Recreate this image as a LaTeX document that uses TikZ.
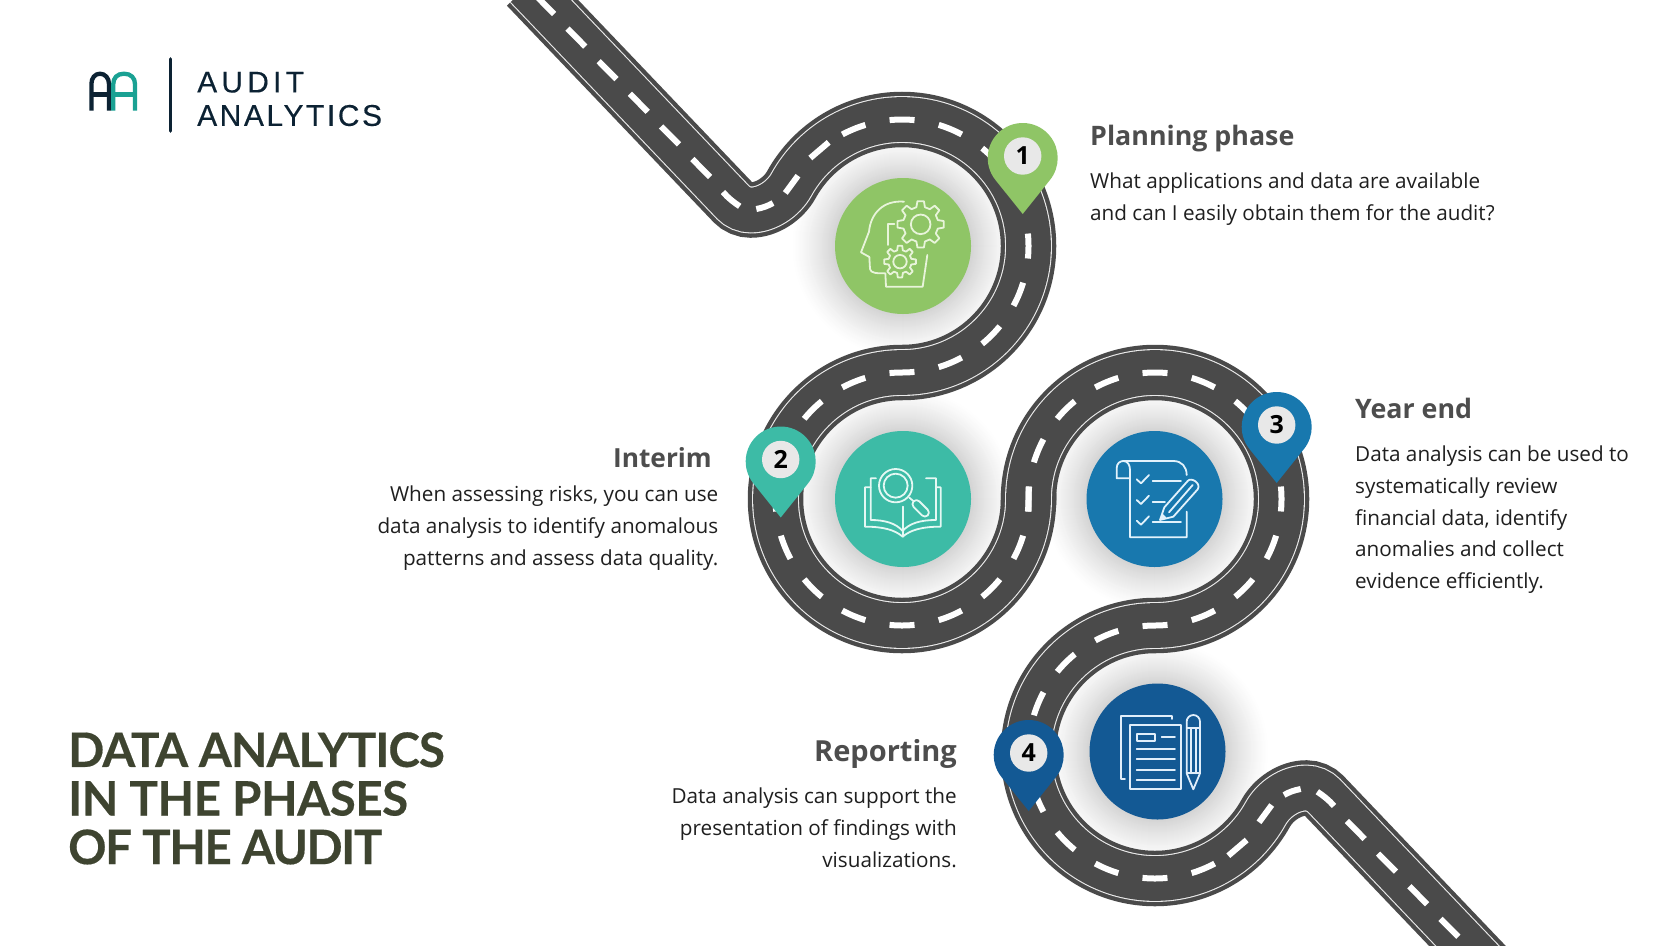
\documentclass[tikz,border=0pt]{standalone}
\usepackage{fontspec}
\setmainfont{Open Sans}
\newfontfamily\titlefont[LetterSpace=-2,FakeBold=0.35]{Lato}
\newfontfamily\logofont[LetterSpace=14,FakeBold=0.25]{Liberation Sans}
\usetikzlibrary{calc}
\definecolor{roadc}{HTML}{4A4A4A}
\definecolor{cgreen}{HTML}{8FC566}
\definecolor{cteal}{HTML}{3DBBA6}
\definecolor{cblue}{HTML}{1878AE}
\definecolor{cnavy}{HTML}{135994}
\definecolor{headc}{HTML}{4D4D4D}
\definecolor{titlec}{HTML}{3E4430}
\definecolor{logod}{HTML}{0C2233}
\definecolor{logot}{HTML}{1AA193}
\definecolor{iconG}{HTML}{E8F4DA}
\definecolor{iconT}{HTML}{E4F8F3}
\definecolor{iconB}{HTML}{E2F2FC}
\definecolor{iconN}{HTML}{E0EEFA}
\newcommand\roadarcs{arc[start angle=180,end angle=450,radius=126.5pt] arc[start angle=270,end angle=29,radius=126.5pt] .. controls (1273.4,799.3) and (1290,788) .. (1306,788) arc[start angle=270,end angle=316,radius=25pt] -- (1530,1011.5)}
\newcommand\gearpath[5]{% cx, cy, root, outer, colour
 \draw[#5] (#1,#2) circle (0.42*#4);
 \draw[#5] ($(#1,#2)+(-14:#3)$) \foreach \a in {0,45,...,315} { -- ($(#1,#2)+(\a-14:#3)$) -- ($(#1,#2)+(\a-8:#4)$) -- ($(#1,#2)+(\a+8:#4)$) -- ($(#1,#2)+(\a+14:#3)$) } -- cycle;
}
\newcommand\pinshape[3]{\fill[#3] (#1,#2+35) ++(141.3:35) arc[start angle=141.3,end angle=398.7,radius=35pt] -- (#1,#2+91) -- cycle;}
\newcommand\glow[2]{\foreach \r in {112,111,...,68}{\pgfmathsetmacro\k{17*((112-\r)/44)^1.3}\fill[black!\k] (#1,#2) circle (\r);}}
\tikzset{
 stopdisc/.style={circle,minimum size=136pt,inner sep=0pt},
 pinnum/.style={circle,fill=black!9,minimum size=37.4pt,inner sep=0pt,text=black,font=\fontsize{25}{25}\selectfont\bfseries},
 headtext/.style={inner sep=0pt,text=headc,font=\fontsize{26.8}{32}\selectfont\bfseries},
 bodytext/.style={inner sep=0pt,text=black!88,font=\fontsize{20.7}{31.8}\selectfont},
 iconline/.style={line width=1.8pt,line join=round,line cap=round},
 roaddash/.style={white,line width=6pt},
}
\begin{document}
\begin{tikzpicture}[x=1pt,y=1pt,yscale=-1]
\clip (0,0) rectangle (1680,945);
\fill[white] (0,0) rectangle (1680,945);
% glows
\glow{903}{246}
\glow{903}{499}
\glow{1154.5}{499}
\glow{1157.5}{751.5}
% road
\foreach \a in {0,180}{\begin{scope}[rotate around={\a:(1028.5,499)}]
  \draw[roadc,line width=55.5pt] (1028.5,505) -- (1028.5,499) \roadarcs;
\end{scope}}
\foreach \a in {0,180}{\begin{scope}[rotate around={\a:(1028.5,499)}]
  \draw[white!92!black,line width=46.9pt] (1028.5,505) -- (1028.5,499) \roadarcs;
\end{scope}}
\foreach \a in {0,180}{\begin{scope}[rotate around={\a:(1028.5,499)}]
  \draw[roadc,line width=44.7pt] (1028.5,505) -- (1028.5,499) \roadarcs;
\end{scope}}
\foreach \a in {0,180}{\begin{scope}[rotate around={\a:(1028.5,499)}]
  \draw[roaddash,dash pattern=on 25pt off 24.68pt] (1028.5,511.5) -- (1028.5,499) arc[start angle=180,end angle=450,radius=126.5pt] arc[start angle=270,end angle=56,radius=126.5pt];
  \draw[roaddash] (1228.3,855.7) -- (1246.7,840);
  \draw[roaddash] (1259,822.3) -- (1271.7,805);
  \draw[roaddash] (1284,795) .. controls (1289,792) and (1295,790) .. (1300.7,789);
  \draw[roaddash] (1317.3,791.7) .. controls (1323,795.5) and (1329,800) .. (1334,806);
  \foreach \k in {0,...,5}
    \draw[roaddash] (1346.9+31.2*\k,821+32.6*\k) -- (1364.7+31.2*\k,839+32.6*\k);
\end{scope}}
% discs
\node[stopdisc,fill=cgreen] (stopa) at (903,246) {};
\node[stopdisc,fill=cteal] (stopb) at (903,499) {};
\node[stopdisc,fill=cblue] (stopc) at (1154.5,499) {};
\node[stopdisc,fill=cnavy] (stopd) at (1157.5,751.5) {};
% icon 1
\begin{scope}[shift={(850,195)},scale=0.3333,iconline,iconG]
 \draw[iconG] (162,20) .. controls (100,15) and (62,55) .. (57,110) -- (33,172) -- (58,186) -- (60,222) .. controls (62,235) and (80,235) .. (106,235) -- (108,275) -- (218,275) -- (232,180);
 \draw[iconG] (133,88) -- (115,88) -- (115,150);
 \gearpath{212}{88}{53}{70}{iconG}
 \gearpath{150}{200}{35}{48}{iconG}
\end{scope}
% icon 2
\begin{scope}[shift={(850,455)},scale=0.3333,iconline]
 \draw[iconT] (137,92) circle (50);
 \draw[iconT] (137,92) circle (36);
 \draw[iconT] (178,128) -- (190,138);
 \draw[iconT,rotate around={45:(212,160)},rounded corners=4pt] (182,148) rectangle (242,172);
 \draw[iconT] (62,97) -- (45,97) -- (45,215) .. controls (100,215) and (135,225) .. (158,245) .. controls (181,225) and (216,215) .. (272,215) -- (272,97) -- (258,97);
 \draw[iconT] (78,70) -- (62,70) -- (62,195) .. controls (105,195) and (138,205) .. (158,228) .. controls (178,205) and (211,195) .. (258,195) -- (258,70) -- (228,70);
 \draw[iconT] (158,155) -- (158,245);
\end{scope}
% icon 3
\begin{scope}[shift={(1105,450)},scale=0.3333,iconline]
 \draw[iconB] (75,85) -- (35,85) -- (35,55) .. controls (35,40) and (45,33) .. (55,33) -- (205,33) .. controls (230,33) and (245,50) .. (245,75);
 \draw[iconB] (55,33) .. controls (68,33) and (75,45) .. (75,60) -- (75,262) -- (245,262) -- (245,185);
 \draw[iconB] (143,92) -- (228,92);
 \draw[iconB] (143,155) -- (180,155);
 \draw[iconB] (143,217) -- (228,217);
 \foreach \y in {0,62,124}
   \draw[iconB] (95,88+\y) -- (108,100+\y) -- (132,75+\y);
 \draw[iconB] (165,210) -- (178,172) -- (248,93) .. controls (258,80) and (290,100) .. (278,118) -- (205,200) -- cycle;
 \draw[iconB] (192,187) -- (263,105);
 \fill[iconB] (165,210) -- (172,190) -- (186,205) -- cycle;
\end{scope}
% icon 4
\begin{scope}[shift={(1110,705)},scale=0.3333,iconline]
 \draw[iconN] (185,42) -- (185,32) -- (32,32) -- (32,222) -- (45,222);
 \draw[iconN] (60,60) rectangle (213,252);
 \draw[iconN] (80,88) rectangle (135,107);
 \draw[iconN] (155,97) -- (195,97);
 \foreach \y in {131,162,194,225}
   \draw[iconN] (80,\y) -- (195,\y);
 \draw[iconN] (230,205) -- (230,50) arc[start angle=180,end angle=360,radius=20pt] -- (270,205) -- (250,253) -- cycle;
 \draw[iconN] (230,70) -- (270,70);
 \draw[iconN] (230,205) -- (270,205);
 \draw[iconN] (243,70) -- (243,205);
 \draw[iconN] (258,70) -- (258,205);
\end{scope}
% pins
\pinshape{1022.7}{123}{cgreen}
\pinshape{780.7}{426.5}{cteal}
\pinshape{1276.7}{392}{cblue}
\pinshape{1028.7}{720}{cnavy}
\node[pinnum] (pina) at (1022.7,156) {1};
\node[pinnum] (pinb) at (780.7,459.5) {2};
\node[pinnum] (pinc) at (1276.7,425) {3};
\node[pinnum] (pind) at (1028.7,753) {4};
% texts
\node[headtext,anchor=north west] (ha) at (1090,124.5) {Planning phase};
\node[bodytext,anchor=north west,align=left] (ba) at (1090,173) {What applications and data are available\\and can I easily obtain them for the audit?};
\node[headtext,anchor=north east,font=\fontsize{26.3}{32}\selectfont\bfseries] (hb) at (712,447.5) {Interim};
\node[bodytext,anchor=north east,align=right] (bb) at (718.5,485.5) {When assessing risks, you can use\\data analysis to identify anomalous\\patterns and assess data quality.};
\node[headtext,anchor=north west] (hc) at (1355,397.5) {Year end};
\node[bodytext,anchor=north west,align=left] (bc) at (1355,445.5) {Data analysis can be used to\\systematically review\\financial data, identify\\anomalies and collect\\evidence efficiently.};
\node[headtext,anchor=north east,font=\fontsize{29}{32}\selectfont\bfseries] (hd) at (957,739.5) {Reporting};
\node[bodytext,anchor=north east,align=right] (bd) at (957,787.5) {Data analysis can support the\\presentation of findings with\\visualizations.};
% title
\node[inner sep=0pt,anchor=north west,align=left,text=titlec,font=\fontsize{47.5}{48.6}\selectfont\titlefont\bfseries] (title) at (68,732) {DATA ANALYTICS\\{\addfontfeature{LetterSpace=-1}IN THE PHASES}\\{\addfontfeature{LetterSpace=-3}OF THE AUDIT}};
% logo
\draw[logod,line width=3.6pt,line cap=round] (170.5,59) -- (170.5,131);
\draw[logod,line width=4.3pt] (91.4,110.7) -- (91.4,84) .. controls (91.4,78) and (95,73.7) .. (100,73.7) .. controls (105,73.7) and (109,78) .. (109,84) -- (109,110.7);
\draw[logod,line width=4.3pt] (91.4,94.5) -- (109,94.5);
\draw[logot,line width=4.3pt] (113.3,110.7) -- (113.3,84) .. controls (113.3,78) and (117,73.7) .. (124,73.7) .. controls (131,73.7) and (135,78) .. (135,84) -- (135,110.7);
\draw[logot,line width=4.3pt] (113.3,94.5) -- (135,94.5);
\node[inner sep=0pt,anchor=north west,align=left,text=logod,font=\fontsize{30}{33.4}\selectfont\logofont] (logo) at (197,71.6) {AUDIT\\{\addfontfeature{LetterSpace=8.5}ANALYTICS}};
\end{tikzpicture}
\end{document}
